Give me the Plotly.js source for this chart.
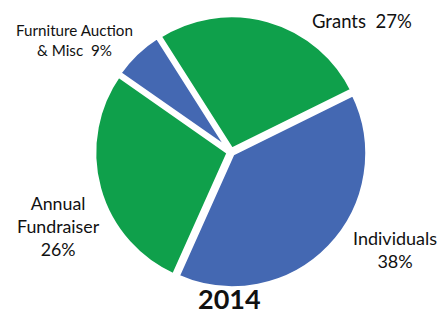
<!DOCTYPE html>
<html>
<head>
<meta charset="utf-8">
<script src="https://cdn.plot.ly/plotly-3.0.1.min.js"></script>
<style>html,body{margin:0;padding:0;background:#fff;}#chart{width:443px;height:316px;}</style>
</head>
<body>
<div id="chart"></div>
<script>
var categories = ["Grants", "Individuals", "Annual Fundraiser", "Furniture Auction & Misc"];
// percentages printed in the labels
var labelPercents = [27, 38, 26, 9];
// slice sizes as drawn
var sliceValues = [26.7, 39, 28, 6.3];
var sliceColors = ["#0fa04b", "#4468b2", "#0fa04b", "#4468b2"];
var labelLines = [["Grants"], ["Individuals"], ["Annual", "Fundraiser"], ["Furniture Auction", "& Misc"]];
var inlinePercent = [true, false, false, true];
var yearTitle = "2014";

var W = 443, H = 316;
function px(x){ return x / W; }
function py(y){ return 1 - y / H; }

var cx = 231, cy = 152, R = 137;

var trace = {
  type: "pie",
  labels: categories,
  values: sliceValues,
  sort: false,
  direction: "clockwise",
  rotation: -32.4,
  textinfo: "none",
  hoverinfo: "label",
  pull: [0.015, 0.015, 0.015, 0.015],
  marker: { colors: sliceColors, line: { color: "#ffffff", width: 4.5 } },
  domain: { x: [px(cx - R), px(cx + R)], y: [py(cy + R), py(cy - R)] },
  showlegend: false
};

var labelPos = [[362, 21, 18.5], [395, 249, 18], [59, 226, 17.8], [74, 40, 15.2]];
var annotations = categories.map(function(c, i){
  var lines = labelLines[i].slice();
  var pct = labelPercents[i] + "%";
  if (inlinePercent[i]) { lines[lines.length - 1] += "\u00a0\u00a0" + pct; }
  else { lines.push(pct); }
  return {
    text: lines.join("<br>"), xref: "paper", yref: "paper",
    x: px(labelPos[i][0]), y: py(labelPos[i][1]),
    xanchor: "center", yanchor: "middle", showarrow: false, align: "center",
    font: { family: "Lato, 'DejaVu Sans', sans-serif", size: labelPos[i][2], color: "#111111" }
  };
});
annotations.push({
  text: "<b>" + yearTitle + "</b>", xref: "paper", yref: "paper",
  x: px(229), y: py(298), xanchor: "center", yanchor: "middle", showarrow: false,
  borderpad: 0,
  font: { family: "Lato, 'DejaVu Sans', sans-serif", size: 27, color: "#111111" }
});

var layout = {
  width: W, height: H,
  margin: { l: 0, r: 0, t: 0, b: 0 },
  paper_bgcolor: "#ffffff",
  annotations: annotations
};

Plotly.newPlot("chart", [trace], layout, { displayModeBar: false, staticPlot: true });
</script>
</body>
</html>
